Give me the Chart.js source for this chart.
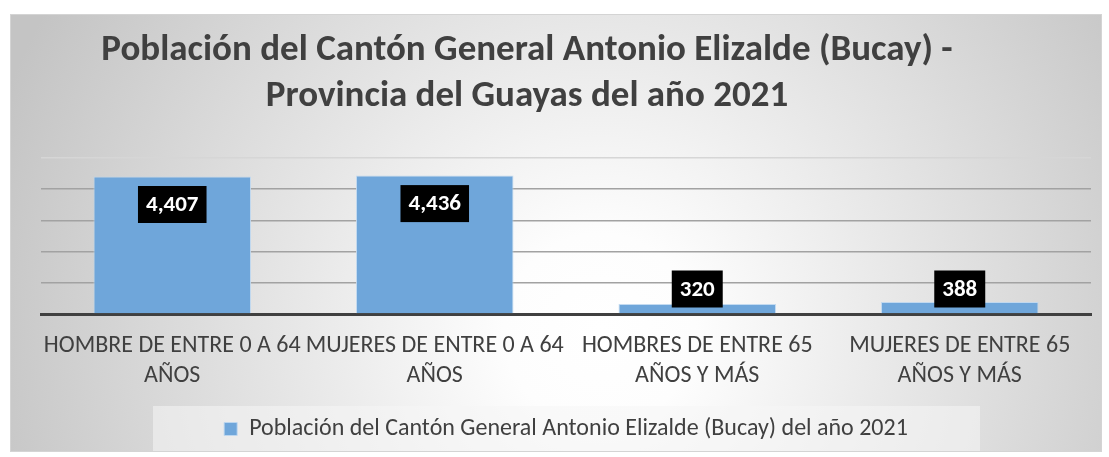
<!DOCTYPE html>
<html><head><meta charset="utf-8">
<script src="https://cdn.jsdelivr.net/npm/chart.js@4"></script>
<style>html,body{margin:0;padding:0;background:#fff}#wrap{width:1109px;height:457px;position:relative}</style>
</head><body><div id="wrap"><canvas id="c"></canvas></div>
<script>
const TITLE_LINES = ["Población del Cantón General Antonio Elizalde (Bucay) -", "Provincia del Guayas del año 2021"];
const CATEGORIES = [
  ["HOMBRE DE ENTRE 0 A 64", "AÑOS"],
  ["MUJERES DE ENTRE 0 A 64", "AÑOS"],
  ["HOMBRES DE ENTRE 65", "AÑOS Y MÁS"],
  ["MUJERES DE ENTRE 65", "AÑOS Y MÁS"]
];
const SERIES_NAME = "Población del Cantón General Antonio Elizalde (Bucay) del año 2021";
const VALUES = [4407, 4436, 320, 388];
const Y_MAX = 5000;
const Y_STEP = 1000;

const FONT = 'Carlito, Calibri, "Open Sans", sans-serif';
const TEXT = '#404040';

const bgPlugin = {
  id: 'bg',
  beforeDraw(chart) {
    const ctx = chart.ctx;
    ctx.save();
    ctx.fillStyle = '#fff';
    ctx.fillRect(0, 0, chart.width, chart.height);
    const g = ctx.createRadialGradient(600, 330, 0, 600, 330, 640);
    g.addColorStop(0, '#ffffff');
    g.addColorStop(0.15, '#fdfdfd');
    g.addColorStop(1, '#c4c4c4');
    ctx.fillStyle = g;
    ctx.fillRect(10, 14, 1092, 438);
    ctx.strokeStyle = '#d4d4d4';
    ctx.lineWidth = 1;
    ctx.strokeRect(10.5, 14.5, 1091, 437);
    // legend box
    ctx.fillStyle = 'rgba(245,245,245,0.55)';
    ctx.fillRect(153, 406, 827, 45);
    // title
    ctx.fillStyle = TEXT;
    ctx.font = 'bold 37px ' + FONT;
    ctx.textAlign = 'center';
    ctx.textBaseline = 'alphabetic';
    ctx.fillText(TITLE_LINES[0], 527, 60);
    ctx.fillText(TITLE_LINES[1], 527, 106);
    ctx.restore();
  }
};

const labelPlugin = {
  id: 'barLabels',
  afterDatasetsDraw(chart) {
    const ctx = chart.ctx;
    const meta = chart.getDatasetMeta(0);
    const base = chart.scales.y.getPixelForValue(0);
    ctx.save();
    ctx.font = 'bold 23px ' + FONT;
    ctx.textAlign = 'center';
    ctx.textBaseline = 'middle';
    meta.data.forEach((bar, i) => {
      const txt = VALUES[i].toLocaleString('en-US');
      const w = ctx.measureText(txt).width + 16;
      const h = 37;
      const cy = Math.min(bar.y + 28, base - 25);
      ctx.fillStyle = '#000';
      ctx.fillRect(bar.x - w / 2, cy - h / 2, w, h);
      ctx.fillStyle = '#fff';
      ctx.fillText(txt, bar.x, cy + 1);
    });
    ctx.restore();
  }
};

new Chart(document.getElementById('c'), {
  type: 'bar',
  data: {
    labels: CATEGORIES,
    datasets: [{
      label: SERIES_NAME,
      data: VALUES,
      backgroundColor: '#6fa6da',
      borderColor: 'rgba(190,215,240,0.9)',
      borderWidth: 1,
      categoryPercentage: 1,
      barPercentage: 0.6
    }]
  },
  options: {
    responsive: true,
    maintainAspectRatio: false,
    animation: false,
    layout: { padding: { left: 41, right: 18, top: 158, bottom: 6 } },
    plugins: {
      title: { display: false },
      tooltip: { enabled: false },
      legend: {
        display: true,
        position: 'bottom',
        labels: {
          color: TEXT,
          font: { family: FONT, size: 24 },
          boxWidth: 13, boxHeight: 13,
          padding: 9,
          generateLabels(chart) {
            return [{ text: SERIES_NAME, fillStyle: '#6fa6da', strokeStyle: 'rgba(190,215,240,0.9)', lineWidth: 1, fontColor: TEXT, datasetIndex: 0 }];
          }
        }
      }
    },
    scales: {
      x: {
        grid: { display: false, drawTicks: false },
        border: { display: true, color: '#404040', width: 3 },
        ticks: { color: TEXT, font: { family: FONT, size: 24, lineHeight: 1.25 }, padding: 17, maxRotation: 0, autoSkip: false }
      },
      y: {
        min: 0, max: Y_MAX,
        ticks: { display: false, stepSize: Y_STEP },
        border: { display: false },
        grid: {
          drawTicks: false,
          lineWidth: 1.5,
          color: (c) => c.tick.value === 0 ? 'rgba(0,0,0,0)' : (c.tick.value === Y_MAX ? '#d6d6d6' : '#a2a2a2')
        }
      }
    }
  },
  plugins: [bgPlugin, labelPlugin]
});
</script>
</body></html>
